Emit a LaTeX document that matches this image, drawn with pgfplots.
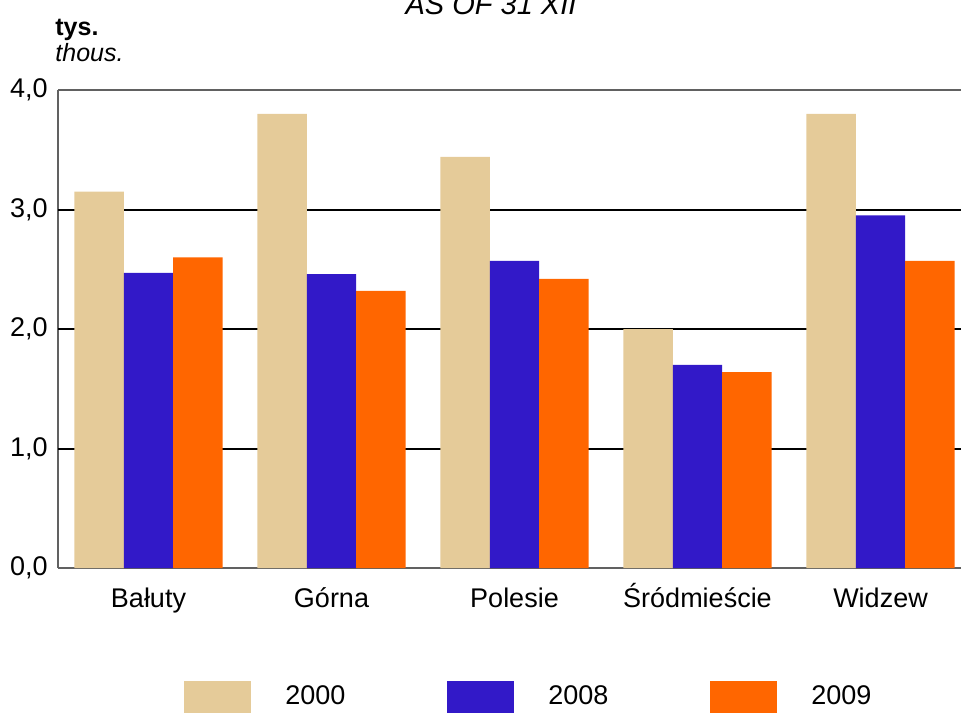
\documentclass[border=0pt]{standalone}
\usepackage{pgfplots}
\pgfplotsset{compat=1.18}
\usepackage{fontspec}
\setmainfont{Liberation Sans}
\definecolor{cA}{RGB}{229,203,153}
\definecolor{cB}{RGB}{50,25,200}
\definecolor{cC}{RGB}{255,102,0}
\begin{document}
\begin{tikzpicture}
\path[use as bounding box, clip] (0pt,0pt) rectangle (480.5pt,356.5pt);
\node[anchor=base, inner sep=0pt, font=\fontsize{14.5pt}{16pt}\selectfont\itshape] at (245.5pt,349pt) {AS OF 31 XII};
\node[anchor=base west, inner sep=0pt, font=\fontsize{12.5pt}{14pt}\selectfont\bfseries] at (27.5pt,338.5pt) {tys.};
\node[anchor=base west, inner sep=0pt, font=\fontsize{12.5pt}{14pt}\selectfont\itshape] at (27.5pt,325.5pt) {thous.};
\begin{axis}[
  at={(74.25pt,72.5pt)}, anchor=origin,
  scale only axis, width=451.5pt, height=239pt,
  ybar=0pt, bar width=0.27,
  xmin=-0.4945, xmax=4.44, ymin=0, ymax=4,
  axis x line=box, axis y line=left,
  axis line style={-, draw=black!62, line width=0.8pt},
  xtick={0,1,2,3,4},
  xticklabels={Bałuty, Górna, Polesie, Śródmieście, Widzew},
  ytick={0,1,2,3,4},
  major tick length=0pt,
  extra y ticks={1,2,3}, extra y tick labels={},
  extra y tick style={grid=major, major grid style={black, line width=1pt}},
  /pgf/number format/assume math mode=true,
  tick label style={font=\fontsize{13.5pt}{16pt}\selectfont},
  yticklabel style={inner sep=0pt, xshift=-5pt, /pgf/number format/fixed, /pgf/number format/fixed zerofill, /pgf/number format/precision=1, /pgf/number format/use comma},
  xticklabel style={inner sep=0pt, anchor=north, text height=0.75em, text depth=0.25em, yshift=-11.9pt},
  legend columns=3,
  legend style={at={(axis description cs:0.1328,-0.27)}, anchor=west, draw=none, fill=none,
    font=\fontsize{13.5pt}{16pt}\selectfont,
    nodes={inner sep=0pt},
    /tikz/every odd column/.append style={column sep=17pt},
    /tikz/every even column/.append style={column sep=51pt}},
  legend image code/.code={\path[#1] (0pt,-8pt) rectangle (33.5pt,8pt);},
]
\addplot[fill=cA, draw=none] coordinates {(0,3.15) (1,3.80) (2,3.44) (3,2.00) (4,3.80)};
\addplot[fill=cB, draw=none] coordinates {(0,2.47) (1,2.46) (2,2.57) (3,1.70) (4,2.95)};
\addplot[fill=cC, draw=none] coordinates {(0,2.60) (1,2.32) (2,2.42) (3,1.64) (4,2.57)};
\legend{2000,2008,2009}
\end{axis}
\end{tikzpicture}
\end{document}
